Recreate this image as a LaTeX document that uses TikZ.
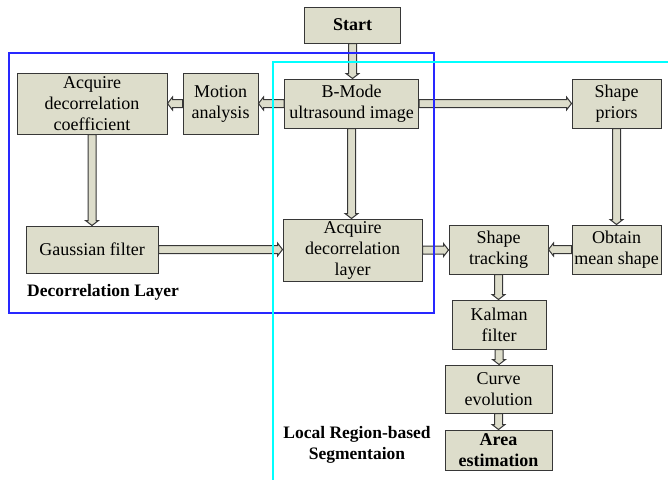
\documentclass[tikz,border=0pt]{standalone}
\usepackage{fontspec}
\setmainfont{Liberation Serif}
\usetikzlibrary{calc}
\definecolor{boxfill}{RGB}{221,221,203}
\definecolor{boxline}{RGB}{55,55,55}
\definecolor{frameblue}{RGB}{40,40,255}
\definecolor{framecyan}{RGB}{0,255,255}
\begin{document}
\begin{tikzpicture}[x=1pt,y=-1pt,
  box/.style={draw=boxline, fill=boxfill, line width=1pt, inner sep=0pt, align=center,
    font=\fontsize{18}{21}\selectfont},
  lbl/.style={inner sep=0pt, align=center, font=\fontsize{17.5}{21}\selectfont\bfseries},
  fat/.style={draw=boxline, fill=boxfill, line width=1pt, line join=miter,
    to path={
      ($(\tikztotarget)!5pt!(\tikztostart)$) coordinate (fatB)
      ($(\tikztostart)!4pt!90:(\tikztotarget)$)
      -- ($(fatB)!4pt!90:(\tikztotarget)$)
      -- ($(fatB)!6.5pt!90:(\tikztotarget)$)
      -- (\tikztotarget)
      -- ($(fatB)!6.5pt!-90:(\tikztotarget)$)
      -- ($(fatB)!4pt!-90:(\tikztotarget)$)
      -- ($(\tikztostart)!4pt!-90:(\tikztotarget)$)
      -- cycle}},
  frame/.style={line width=1.5pt}
]
\useasboundingbox (0,0) rectangle (668,482);

\node[box, minimum width=96pt, minimum height=36pt, font=\fontsize{18}{21}\selectfont\bfseries] (start) at (352.5,25) {Start};
\node[box, minimum width=134pt, minimum height=49pt] (bmode) at (351.5,103.5) {B-Mode\\ultrasound image};
\node[box, minimum width=75pt, minimum height=61pt] (motion) at (220.5,103.5) {Motion\\analysis};
\node[box, minimum width=150pt, minimum height=61pt] (coef) at (92,103.5) {Acquire\\decorrelation\\coefficient};
\node[box, minimum width=89pt, minimum height=49pt] (priors) at (616.5,103.5) {Shape\\priors};
\node[box, minimum width=132pt, minimum height=47pt] (gauss) at (92,249.5) {Gaussian filter};
\node[box, minimum width=139pt, minimum height=62pt] (layer) at (352.5,250) {Acquire\\decorrelation\\layer};
\node[box, minimum width=99pt, minimum height=49pt] (track) at (498.5,249.5) {Shape\\tracking};
\node[box, minimum width=89pt, minimum height=49pt] (mean) at (616.5,249.5) {Obtain\\mean shape};
\node[box, minimum width=94pt, minimum height=49pt] (kalman) at (499,324.5) {Kalman\\filter};
\node[box, minimum width=107pt, minimum height=48pt] (curve) at (498.5,389) {Curve\\evolution};
\node[box, minimum width=107pt, minimum height=40pt, font=\fontsize{18}{21}\selectfont\bfseries] (area) at (498.5,450) {Area\\estimation};

\node[lbl, anchor=west] (declbl) at (27,292) {Decorrelation Layer};
\node[lbl] (seglbl) at (357,445) {Local Region-based\\Segmentaion};

\draw[fat] (start.south) to (start.south |- bmode.north);
\draw[fat] (bmode.west) to (bmode.west -| motion.east);
\draw[fat] (motion.west) to (motion.west -| coef.east);
\draw[fat] (bmode.east) to (bmode.east -| priors.west);
\draw[fat] (bmode.south) to (bmode.south |- layer.north);
\draw[fat] (coef.south) to (coef.south |- gauss.north);
\draw[fat] (gauss.east) to (gauss.east -| layer.west);
\draw[fat] (layer.east) to (layer.east -| track.west);
\draw[fat] (priors.south) to (priors.south |- mean.north);
\draw[fat] (mean.west) to (mean.west -| track.east);
\draw[fat] (track.south) to (track.south |- kalman.north);
\draw[fat] (kalman.south) to (kalman.south |- curve.north);
\draw[fat] (curve.south) to (curve.south |- area.north);

\draw[frame, frameblue] (9,53) rectangle (434,313);
\draw[frame, framecyan] (668,62) -- (273,62) -- (273,480);
\end{tikzpicture}
\end{document}
